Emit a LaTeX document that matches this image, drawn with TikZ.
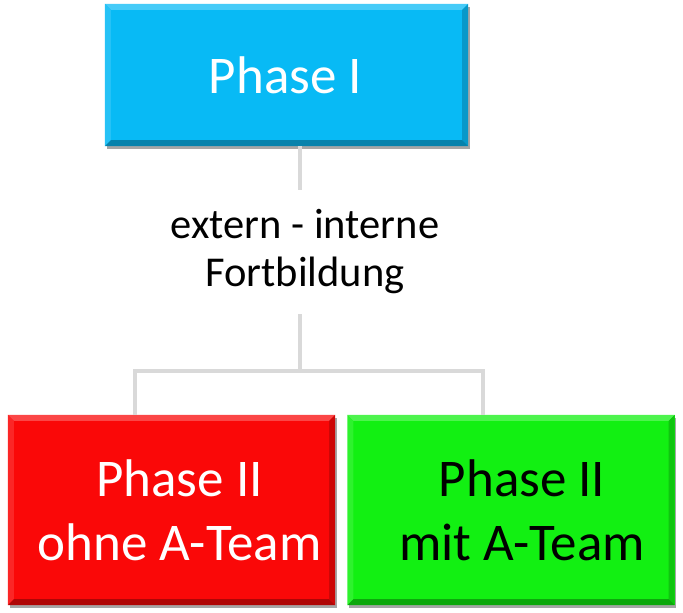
\documentclass[tikz,border=0pt]{standalone}
\usepackage{fontspec}
\setmainfont{Carlito}
\usetikzlibrary{shadows}
\definecolor{pblue}{RGB}{8,186,245}
\definecolor{pred}{RGB}{250,8,8}
\definecolor{pgreen}{RGB}{18,240,18}
\definecolor{conn}{RGB}{217,217,217}
\tikzset{
  phasebox/.style={rectangle, inner sep=0pt,
    drop shadow={shadow xshift=1.5pt, shadow yshift=-3pt, opacity=0.35, fill=black}},
  phasetext/.style={inner sep=0pt, align=center, font=\fontsize{53}{64}\selectfont},
  connline/.style={draw=conn, line width=4.5pt},
  midlabel/.style={inner sep=0pt, align=center, font=\fontsize{42.5}{48}\selectfont, minimum height=124pt}
}
\newcommand\bevelit[2]{%
  \fill[#2!75!white] (#1.north west) -- (#1.north east) -- ([xshift=-6pt,yshift=-6pt]#1.north east) -- ([xshift=6pt,yshift=-6pt]#1.north west) -- cycle;
  \fill[#2!88!white] (#1.north west) -- ([xshift=6pt,yshift=-6pt]#1.north west) -- ([xshift=6pt,yshift=6pt]#1.south west) -- (#1.south west) -- cycle;
  \fill[#2!82!black] (#1.north east) -- ([xshift=-6pt,yshift=-6pt]#1.north east) -- ([xshift=-6pt,yshift=6pt]#1.south east) -- (#1.south east) -- cycle;
  \fill[#2!70!black] (#1.south west) -- ([xshift=6pt,yshift=6pt]#1.south west) -- ([xshift=-6pt,yshift=6pt]#1.south east) -- (#1.south east) -- cycle;
}
\begin{document}
\begin{tikzpicture}[x=1pt,y=-1pt]
\useasboundingbox (0,0) rectangle (683,613);
\node[phasebox, fill=pblue, minimum width=363pt, minimum height=142pt] (top) at (286.5,75) {};
\node[phasebox, fill=pred, minimum width=327pt, minimum height=190pt] (red) at (171.5,510) {};
\node[phasebox, fill=pgreen, minimum width=327pt, minimum height=190pt] (green) at (511,510) {};
\bevelit{top}{pblue}
\bevelit{red}{pred}
\bevelit{green}{pgreen}
\node[phasetext, text=white] (toptext) at (285.5,75) {Phase I};
\node[phasetext, text=white] (redtext) at (179.5,510) {Phase II\\ohne A-Team};
\node[phasetext, text=black] (greentext) at (522,510) {Phase II\\mit A-Team};
\node[midlabel] (mid) at (305,252) {extern - interne\\Fortbildung};
\coordinate (j) at (300,371);
\coordinate (jl) at (135,371);
\coordinate (jr) at (483,371);
\draw[connline] (top.south -| j) -- (mid.north -| j);
\draw[connline] (mid.south -| j) -- (j);
\draw[connline, line join=miter] (red.north -| jl) -- (jl) -- (jr) -- (green.north -| jr);
\end{tikzpicture}
\end{document}
